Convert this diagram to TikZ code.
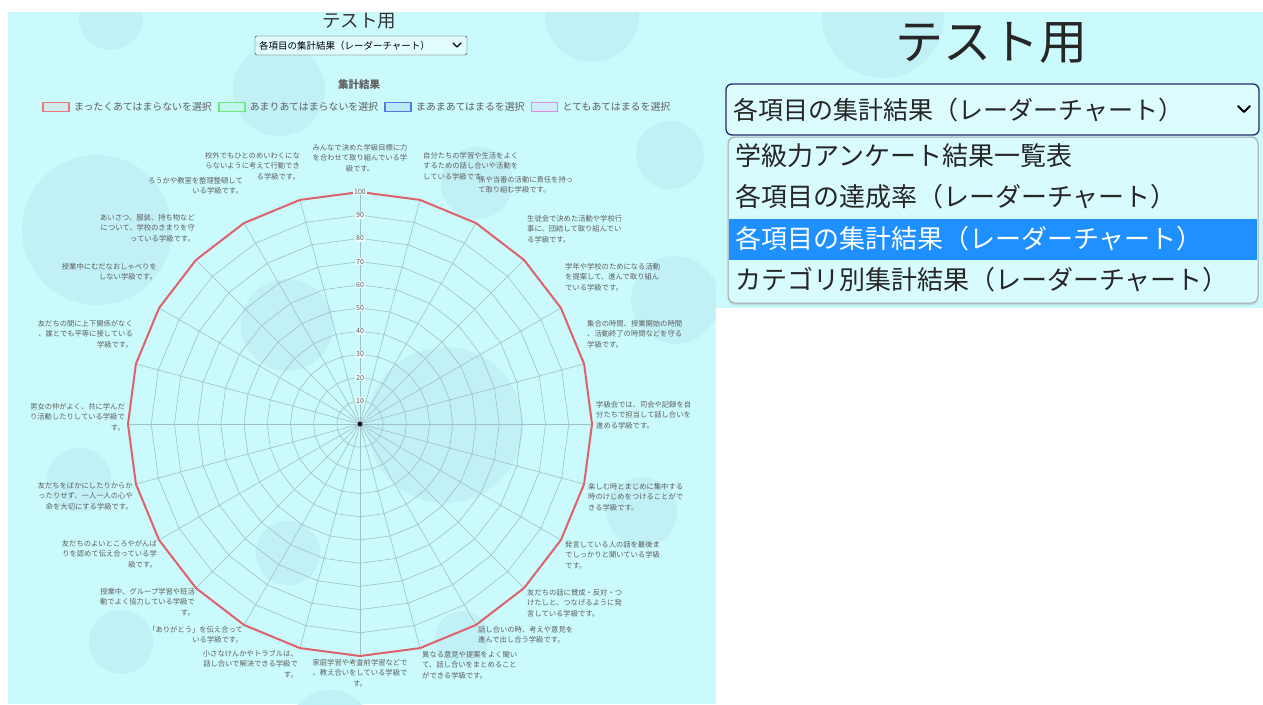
\documentclass[tikz,border=0pt]{standalone}
\usepackage{fontspec}
\setmainfont{Noto Sans CJK JP}
\usepackage{tikz}
\usetikzlibrary{positioning,shadows}

\definecolor{bgcyan}{RGB}{203,250,252}
\definecolor{bubble}{RGB}{193,240,246}
\definecolor{gridc}{RGB}{160,192,198}
\definecolor{datared}{RGB}{222,98,108}
\definecolor{labgrey}{RGB}{95,95,95}
\definecolor{selblue}{RGB}{30,144,255}
\definecolor{navy}{RGB}{40,40,110}
\definecolor{lgred}{RGB}{232,120,125}
\definecolor{lggreen}{RGB}{110,232,125}
\definecolor{lgblue}{RGB}{90,120,225}
\definecolor{lgpink}{RGB}{222,140,232}

\begin{document}
\begin{tikzpicture}[x=1pt,y=-1pt,
  lab/.style={font=\fontsize{7.3}{10.5}\selectfont,text=labgrey,inner sep=0pt},
  labr/.style={lab,anchor=north west,align=left},
  labl/.style={lab,anchor=north east,align=right},
  labc/.style={lab,anchor=north,align=center},
  tick/.style={font=\fontsize{7}{8}\selectfont,text=labgrey,fill=white!55!bgcyan,inner sep=0.8pt},
  legbox/.style={draw=#1,line width=1.6pt,fill=#1!12!bgcyan,minimum width=26pt,minimum height=9pt,inner sep=0pt},
  legtext/.style={font=\fontsize{9.9}{11}\selectfont,text=labgrey,inner sep=0pt},
  opt/.style={font=\fontsize{26}{30}\selectfont,inner sep=0pt,anchor=west,text=black!85},
  chev/.style={line width=1.8pt,line cap=round,line join=round}]
  \useasboundingbox (0,0) rectangle (1263,704);
  \fill[white] (0,0) rectangle (1263,704);
  \fill[bgcyan] (8,12) rectangle (716,704);
  \fill[bgcyan] (716,12) rectangle (1263,308);
  \begin{scope}
    \clip (8,12) rectangle (716,704);
    \foreach \x/\y/\r in {111/18/32,592/15/47,279/90/46,97/230/75,287/325/46,445/425/78,
      477/183/36,670/155/34,675/300/44,79/480/32,642/512/35,288/553/32,121/642/32,
      330/733/43,462/638/27}
      \fill[bubble] (\x,\y) circle (\r pt);
  \end{scope}
  \begin{scope}
    \clip (716,12) rectangle (1263,308);
    \fill[bubble] (883,17) circle (61pt);
  \end{scope}

  \node[font=\fontsize{18.5}{20}\selectfont,text=black!80] (ttl) at (359,21) {テスト用};
  \node[draw=black!85,rounded corners=2pt,fill=white!40!bgcyan,minimum width=212pt,minimum height=19pt,inner sep=0pt] (sel) at (361,45.5) {};
  \node[font=\fontsize{9.5}{11}\selectfont,anchor=west,inner sep=0pt] (seltx) at ([xshift=4pt]sel.west) {各項目の集計結果（レーダーチャート）};
  \draw[chev,line width=1.4pt] (453,43) -- (457,47) -- (461,43);
  \node[font=\bfseries\fontsize{10.5}{12}\selectfont,text=labgrey] (cap) at (359,84) {集計結果};

  \node[legbox=lgred] (b1) at (56,107) {};
  \node[legtext,right=4pt of b1] (l1) {まったくあてはまらないを選択};
  \node[legbox=lggreen,right=6pt of l1] (b2) {};
  \node[legtext,right=4pt of b2] (l2) {あまりあてはまらないを選択};
  \node[legbox=lgblue,right=6pt of l2] (b3) {};
  \node[legtext,right=4pt of b3] (l3) {まあまあてはまるを選択};
  \node[legbox=lgpink,right=6pt of l3] (b4) {};
  \node[legtext,right=4pt of b4] (l4) {とてもあてはまるを選択};

  \begin{scope}[shift={(360,424)}]
    \foreach \k in {1,...,10}
      \draw[gridc,line width=0.6pt] (-90:23.2*\k) \foreach \a in {1,...,23} { -- (-90+15*\a:23.2*\k) } -- cycle;
    \foreach \a in {0,...,23} {
      \draw[gridc,line width=0.6pt] (0,0) -- (-90+15*\a:232);
      \coordinate (v\a) at (-90+15*\a:232);
    }
    \draw[datared,line width=2pt,line join=round] (v0) \foreach \a in {1,...,23} { -- (v\a) } -- cycle;
    \foreach \k/\v in {1/10,2/20,3/30,4/40,5/50,6/60,7/70,8/80,9/90,10/100}
      \node[tick] (t\k) at (0,-23.2*\k) {\v};
    \node[circle,fill=black,inner sep=0pt,minimum size=4.6pt] (ctr) at (0,0) {};
  \end{scope}

  \node[labc] (q0) at (360,144) {みんなで決めた学級目標に力\\を合わせて取り組んでいる学\\級です。};
  \node[labr] (q1) at (423,152) {自分たちの学習や生活をよく\\するための話し合いや活動を\\している学級です。};
  \node[labr] (q2) at (478,176) {係や当番の活動に責任を持っ\\て取り組む学級です。};
  \node[labr] (q3) at (527,215) {生徒会で決めた活動や学校行\\事に、団結して取り組んでい\\る学級です。};
  \node[labr] (q4) at (565,263) {学年や学校のためになる活動\\を提案して、進んで取り組ん\\でいる学級です。};
  \node[labr] (q5) at (587,320) {集合の時間、授業開始の時間\\、活動終了の時間などを守る\\学級です。};
  \node[labr] (q6) at (596,401) {学級会では、司会や記録を自\\分たちで担当して話し合いを\\進める学級です。};
  \node[labr] (q7) at (588,483) {楽しむ時とまじめに集中する\\時のけじめをつけることがで\\きる学級です。};
  \node[labr] (q8) at (565,541) {発言している人の話を最後ま\\でしっかりと聞いている学級\\です。};
  \node[labr] (q9) at (527,589) {友だちの話に賛成・反対・つ\\けたしと、つなげるように発\\言している学級です。};
  \node[labr] (q10) at (478,626) {話し合いの時、考えや意見を\\進んで出し合う学級です。};
  \node[labr] (q11) at (422,651) {異なる意見や提案をよく聞い\\て、話し合いをまとめること\\ができる学級です。};
  \node[labc] (q12) at (360,659) {家庭学習や考査前学習などで\\、教え合いをしている学級で\\す。};
  \node[labl] (q13) at (298,650) {小さなけんかやトラブルは、\\話し合いで解決できる学級で\\す。};
  \node[labl] (q14) at (243,626) {「ありがとう」を伝え合って\\いる学級です。};
  \node[labl] (q15) at (195,588) {授業中、グループ学習や班活\\動でよく協力している学級で\\す。};
  \node[labl] (q16) at (157,540) {友だちのよいところやがんば\\りを認めて伝え合っている学\\級です。};
  \node[labl] (q17) at (133,482) {友だちをばかにしたりからか\\ったりせず、一人一人の心や\\命を大切にする学級です。};
  \node[labl] (q18) at (125,403) {男女の仲がよく、共に学んだ\\り活動したりしている学級で\\す。};
  \node[labl] (q19) at (133,320) {友だちの間に上下関係がなく\\、誰とでも平等に接している\\学級です。};
  \node[labl] (q20) at (157,263) {授業中にむだなおしゃべりを\\しない学級です。};
  \node[labl] (q21) at (195,214) {あいさつ、服装、持ち物など\\について、学校のきまりを守\\っている学級です。};
  \node[labl] (q22) at (243,177) {ろうかや教室を整理整頓して\\いる学級です。};
  \node[labl] (q23) at (300,152) {校外でもひとのめいわくにな\\らないように考えて行動でき\\る学級です。};

  \node[font=\fontsize{48}{50}\selectfont,text=black!85] (ttl2) at (991,43) {テスト用};
  \node[draw=navy,line width=1.3pt,rounded corners=6pt,fill=white!30!bgcyan,minimum width=533pt,minimum height=51pt,inner sep=0pt] (sel2) at (992.5,109.5) {};
  \node[opt,font=\fontsize{25}{28}\selectfont] (sel2tx) at ([xshift=8pt]sel2.west) {各項目の集計結果（レーダーチャート）};
  \draw[chev] (1238,106) -- (1244,112) -- (1250,106);
  \node[draw=black!35,line width=1pt,rounded corners=7pt,fill=white!25!bgcyan,minimum width=530pt,minimum height=166pt,inner sep=0pt,
    drop shadow={opacity=0.2,shadow xshift=0pt,shadow yshift=-2.5pt}] (lst) at (993,220) {};
  \node[fill=selblue,minimum width=528pt,minimum height=41pt,inner sep=0pt] (hl) at (993,239.5) {};
  \node[opt] (o1) at (735,156) {学級力アンケート結果一覧表};
  \node[opt] (o2) at (735,197) {各項目の達成率（レーダーチャート）};
  \node[opt,text=white] (o3) at (735,239) {各項目の集計結果（レーダーチャート）};
  \node[opt] (o4) at (735,280) {カテゴリ別集計結果（レーダーチャート）};
\end{tikzpicture}
\end{document}
